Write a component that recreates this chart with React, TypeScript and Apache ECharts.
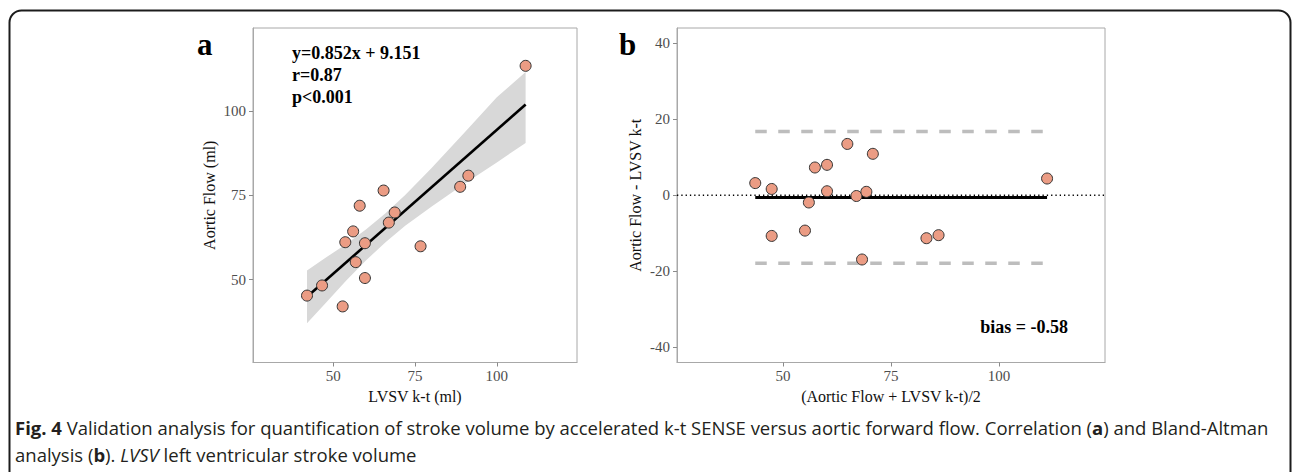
import React, { useEffect, useRef } from "react";
import * as echarts from "echarts";

// ---- Panel a: correlation data ----
const lvsvKt = [42.0, 46.6, 52.9, 53.7, 56.1, 56.9, 58.1, 59.7, 59.7, 65.4, 67.0, 68.8, 76.7, 88.8, 91.3, 108.8];
const aorticFlow = [45.3, 48.3, 42.1, 61.1, 64.3, 55.2, 71.9, 60.8, 50.5, 76.4, 66.9, 69.9, 59.9, 77.5, 80.8, 113.3];
const fitSlope = 0.852;
const fitIntercept = 9.151;
const fitRange = [42.0, 108.8];
// confidence band
const bandX = [42, 48, 54, 60, 66, 72, 80, 90, 100, 108.8];
const bandUpper = [52.7, 56.7, 60.6, 64.9, 69.7, 75.1, 83.0, 93.4, 104.0, 111.5];
const bandLower = [37.1, 43.4, 49.8, 55.7, 61.1, 66.0, 71.6, 78.3, 84.7, 90.5];

// ---- Panel b: Bland-Altman data ----
const baMean = [43.6, 47.4, 47.4, 57.4, 60.2, 56.0, 64.9, 60.2, 55.1, 70.8, 67.0, 69.3, 68.3, 83.2, 86.0, 111.1];
const baDiff = [3.2, 1.65, -10.7, 7.3, 8.0, -1.9, 13.5, 1.05, -9.3, 10.9, -0.2, 0.9, -16.9, -11.3, -10.5, 4.4];
const bias = -0.58;
const upperLoA = 16.8;
const lowerLoA = -17.9;
const baRange = [43.6, 111.1];

// ---- Axis ticks ----
const ticksA = [50, 75, 100];
const ticksBx = [50, 75, 100];
const ticksBy = [-40, -20, 0, 20, 40];

const SERIF = "'Liberation Serif', 'DejaVu Serif', serif";
const SANS = "'Open Sans', 'Noto Sans', sans-serif";
const tickLabelColor = "#4d4d4d";
const borderColor = "#a8a8a8";
const pointFill = "#eb9c84";

function axisCommon(ticks: number[], min: number, max: number, gridIndex: number, name: string, isY: boolean, nameGap: number) {
  return {
    type: "value",
    gridIndex,
    min,
    max,
    name,
    nameLocation: "middle",
    nameGap,
    nameRotate: isY ? 90 : 0,
    nameTextStyle: { fontFamily: SERIF, fontSize: 16, color: "#111" },
    splitLine: { show: false },
    axisLine: { show: true, onZero: false, lineStyle: { color: borderColor, width: 1 } },
    axisTick: { show: true, length: 4, customValues: ticks, lineStyle: { color: "#8a8a8a", width: 1 } },
    axisLabel: { customValues: ticks, color: tickLabelColor, fontFamily: SERIF, fontSize: 15, margin: isY ? 7 : 6 },
  };
}

export default function App() {
  const ref = useRef<HTMLDivElement>(null);
  useEffect(() => {
    if (!ref.current) return;
    const chart = echarts.init(ref.current, null, { renderer: "svg" });
    const fitLine = fitRange.map((x) => [x, fitSlope * x + fitIntercept]);
    const option = {
      animation: false,
      backgroundColor: "#ffffff",
      grid: [
        { left: 253, top: 28, width: 324, height: 334.5, show: true, borderColor, borderWidth: 1, backgroundColor: "transparent", outerBoundsMode: "none" },
        { left: 677, top: 28, width: 428, height: 334.5, show: true, borderColor, borderWidth: 1, backgroundColor: "transparent", outerBoundsMode: "none" },
      ],
      xAxis: [
        axisCommon(ticksA, 25.5, 124.5, 0, "LVSV k-t (ml)", false, 23),
        axisCommon(ticksBx, 25.5, 124.5, 1, "(Aortic Flow + LVSV k-t)/2", false, 23),
      ],
      yAxis: [
        axisCommon(ticksA, 25.5, 124.5, 0, "Aortic Flow (ml)", true, 36),
        axisCommon(ticksBy, -44, 44, 1, "Aortic Flow - LVSV k-t", true, 34),
      ],
      series: [
        {
          type: "custom",
          xAxisIndex: 0,
          yAxisIndex: 0,
          z: 1,
          silent: true,
          data: [[bandX[0], bandUpper[0]]],
          renderItem: (_params: any, api: any) => {
            const pts: number[][] = [];
            for (let i = 0; i < bandX.length; i++) pts.push(api.coord([bandX[i], bandUpper[i]]));
            for (let i = bandX.length - 1; i >= 0; i--) pts.push(api.coord([bandX[i], bandLower[i]]));
            return { type: "polygon", shape: { points: pts }, style: { fill: "#d8d8d8", stroke: "none" } };
          },
        },
        {
          type: "line",
          xAxisIndex: 0,
          yAxisIndex: 0,
          z: 2,
          data: fitLine,
          symbol: "none",
          silent: true,
          lineStyle: { color: "#000", width: 2.6 },
        },
        {
          type: "scatter",
          xAxisIndex: 0,
          yAxisIndex: 0,
          z: 5,
          data: lvsvKt.map((x, i) => [x, aorticFlow[i]]),
          symbol: "circle",
          symbolSize: 11,
          itemStyle: { color: pointFill, borderColor: "#333", borderWidth: 1, opacity: 1 },
        },
        {
          type: "line",
          xAxisIndex: 1,
          yAxisIndex: 1,
          z: 2,
          data: baRange.map((x) => [x, upperLoA]),
          symbol: "none",
          silent: true,
          lineStyle: { color: "#bdbdbd", width: 3.5, type: [11.5, 11.5] },
        },
        {
          type: "line",
          xAxisIndex: 1,
          yAxisIndex: 1,
          z: 2,
          data: baRange.map((x) => [x, lowerLoA]),
          symbol: "none",
          silent: true,
          lineStyle: { color: "#bdbdbd", width: 3.5, type: [11.5, 11.5] },
        },
        {
          type: "line",
          xAxisIndex: 1,
          yAxisIndex: 1,
          z: 2,
          data: baRange.map((x) => [x, bias]),
          symbol: "none",
          silent: true,
          lineStyle: { color: "#000", width: 3 },
        },
        {
          type: "line",
          xAxisIndex: 1,
          yAxisIndex: 1,
          z: 3,
          data: [[25.5, 0], [124.5, 0]],
          symbol: "none",
          silent: true,
          lineStyle: { color: "#000", width: 1.3, type: [1.3, 3] },
        },
        {
          type: "scatter",
          xAxisIndex: 1,
          yAxisIndex: 1,
          z: 5,
          data: baMean.map((x, i) => [x, baDiff[i]]),
          symbol: "circle",
          symbolSize: 11,
          itemStyle: { color: pointFill, borderColor: "#333", borderWidth: 1, opacity: 1 },
        },
      ],
      graphic: [
        {
          type: "rect",
          silent: true,
          shape: { x: 9.5, y: 10.5, width: 1281, height: 520, r: 12 },
          style: { fill: "none", stroke: "#1c1c1c", lineWidth: 2 },
        },
        { type: "text", x: 197, y: 44, style: { text: "a", fontFamily: SERIF, fontWeight: "bold", fontSize: 31, fill: "#000", textVerticalAlign: "middle" } },
        { type: "text", x: 619, y: 44, style: { text: "b", fontFamily: SERIF, fontWeight: "bold", fontSize: 31, fill: "#000", textVerticalAlign: "middle" } },
        {
          type: "text",
          x: 292,
          y: 42,
          style: {
            text: "y=0.852x + 9.151\nr=0.87\np<0.001",
            fontFamily: SERIF,
            fontWeight: "bold",
            fontSize: 18,
            lineHeight: 22,
            fill: "#000",
            textVerticalAlign: "top",
          },
        },
        {
          type: "text",
          x: 1068,
          y: 327,
          style: { text: "bias = -0.58", fontFamily: SERIF, fontWeight: "bold", fontSize: 18, fill: "#000", textAlign: "right", textVerticalAlign: "middle" },
        },
        {
          type: "text",
          x: 15,
          y: 414,
          style: {
            text:
              "{b|Fig. 4} Validation analysis for quantification of stroke volume by accelerated k-t SENSE versus aortic forward flow. Correlation ({b|a}) and Bland-Altman\nanalysis ({b|b}). {i|LVSV} left ventricular stroke volume",
            fontFamily: SANS,
            fontSize: 18.5,
            lineHeight: 27,
            fill: "#231f20",
            textVerticalAlign: "top",
            rich: {
              b: { fontFamily: SANS, fontSize: 18.5, fontWeight: "bold", lineHeight: 27, fill: "#231f20" },
              i: { fontFamily: SANS, fontSize: 18.5, fontStyle: "italic", lineHeight: 27, fill: "#231f20" },
            },
          },
        },
      ],
    };
    chart.setOption(option as any);
    return () => chart.dispose();
  }, []);
  return <div ref={ref} style={{ position: "absolute", left: 0, top: 0, width: 1293, height: 472 }} />;
}
